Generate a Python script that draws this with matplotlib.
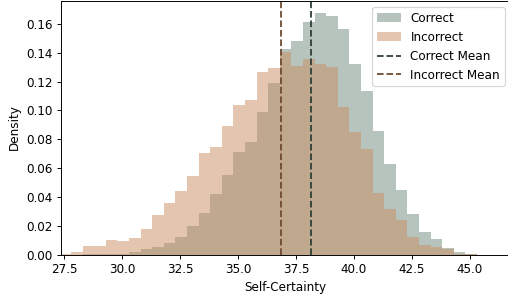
import numpy as np
import matplotlib
matplotlib.use("Agg")
import matplotlib.pyplot as plt

# bin edges of the shared histogram (width 0.5)
bin_edges = [27.3, 27.8, 28.3, 28.8, 29.3, 29.8, 30.3, 30.8, 31.3, 31.8,
             32.3, 32.8, 33.3, 33.8, 34.3, 34.8, 35.3, 35.8, 36.3, 36.8,
             37.3, 37.8, 38.3, 38.8, 39.3, 39.8, 40.3, 40.8, 41.3, 41.8,
             42.3, 42.8, 43.3, 43.8, 44.3, 44.8, 45.3]

correct_density = [0.0, 0.0, 0.0001, 0.0002, 0.0004, 0.0005, 0.0014, 0.0037,
                   0.0054, 0.0077, 0.0124, 0.0198, 0.0291, 0.0419, 0.0552,
                   0.0709, 0.0783, 0.0989, 0.1188, 0.1426, 0.1480, 0.1614,
                   0.1678, 0.1655, 0.1563, 0.1322, 0.1132, 0.0857, 0.0626,
                   0.0448, 0.0280, 0.0153, 0.0107, 0.0043, 0.0015, 0.0004]

incorrect_density = [0.0004, 0.0015, 0.0057, 0.0059, 0.0104, 0.0094, 0.0112,
                     0.0177, 0.0274, 0.0358, 0.0443, 0.0546, 0.0707, 0.0748,
                     0.0892, 0.1038, 0.1072, 0.1267, 0.1294, 0.1408, 0.1310,
                     0.1355, 0.1324, 0.1302, 0.1022, 0.0852, 0.0732, 0.0429,
                     0.0314, 0.0239, 0.0124, 0.0066, 0.0052, 0.0041, 0.0006,
                     0.0001]

correct_mean = 38.13
incorrect_mean = 36.85

CORRECT_COLOR = "#6f8b7d"
INCORRECT_COLOR = "#cb8d61"
CORRECT_LINE = "#2d3e35"
INCORRECT_LINE = "#6e4a2e"

DPI = 86
W, H = 508, 302

edges = np.array(bin_edges)
centers = (edges[:-1] + edges[1:]) / 2

fig = plt.figure(figsize=(W / DPI, H / DPI), dpi=DPI)
ax = fig.add_axes([61 / W, 47.5 / H, 448 / W, 254 / H])

ax.hist(centers, bins=edges, weights=correct_density, color=CORRECT_COLOR,
        alpha=0.5, label="Correct")
ax.hist(centers, bins=edges, weights=incorrect_density, color=INCORRECT_COLOR,
        alpha=0.5, label="Incorrect")
ax.axvline(correct_mean, color=CORRECT_LINE, linestyle="--", linewidth=1.5,
           label="Correct Mean")
ax.axvline(incorrect_mean, color=INCORRECT_LINE, linestyle="--", linewidth=1.5,
           label="Incorrect Mean")

ax.set_xlim(27.37, 46.68)
ax.set_ylim(0, 0.1763)
ax.set_xticks([27.5, 30.0, 32.5, 35.0, 37.5, 40.0, 42.5, 45.0])
ax.set_xlabel("Self-Certainty")
ax.set_ylabel("Density")
# legend box sits just inside the right edge of the picture
ax.legend(loc="upper right", bbox_to_anchor=(1.004, 0.998))

fig.savefig("out.png", dpi=DPI)
